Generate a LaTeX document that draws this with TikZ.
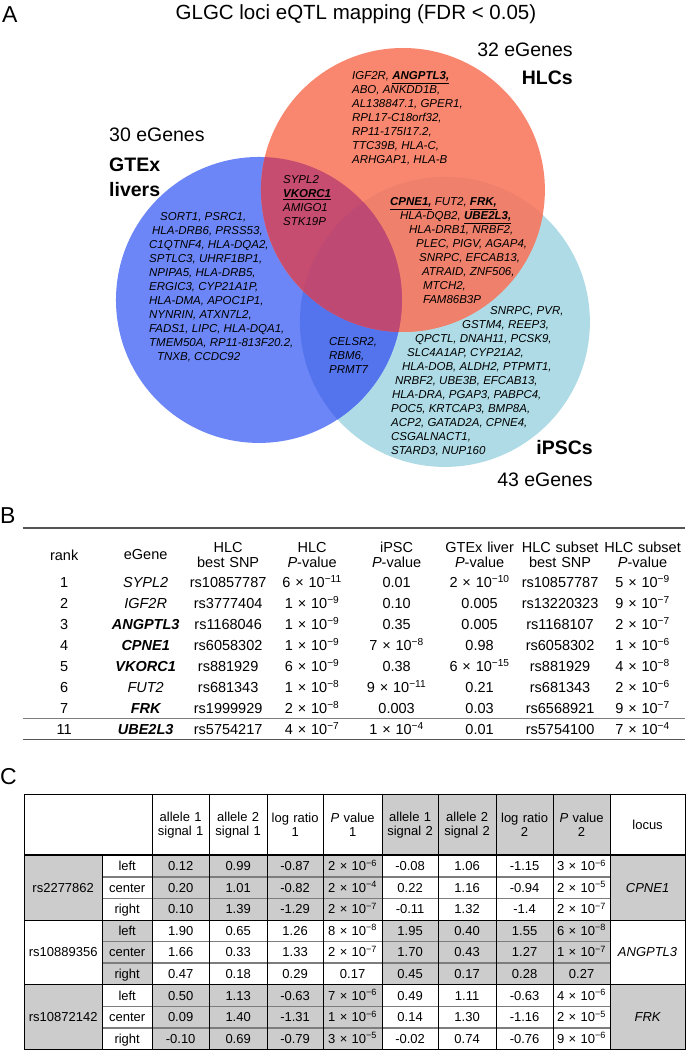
\documentclass[tikz,border=0pt]{standalone}
\usepackage{fontspec}
\setmainfont{Liberation Sans}
\usetikzlibrary{matrix,backgrounds}
\definecolor{hlcfill}{RGB}{249,134,110}
\definecolor{gtexfill}{RGB}{108,134,247}
\definecolor{ipscfill}{RGB}{174,219,229}
\definecolor{hgfill}{RGB}{198,77,112}
\definecolor{hifill}{RGB}{238,128,108}
\definecolor{gifill}{RGB}{84,116,238}
\definecolor{allfill}{RGB}{190,74,116}
\definecolor{cellgray}{RGB}{204,204,204}
\definecolor{rulegray}{RGB}{85,85,85}
\definecolor{divgray}{RGB}{125,125,125}
\newcommand\fsP{\fontsize{23}{26}\selectfont}
\newcommand\fsH{\fontsize{20.5}{24}\selectfont}
\newcommand\fsL{\fontsize{19.5}{22}\selectfont}
\newcommand\fsV{\fontsize{11.5}{14}\selectfont}
\newcommand\fsT{\fontsize{14.5}{14.5}\selectfont}
\newcommand\fsC{\fontsize{13}{14}\selectfont}
\newcommand\hit[1]{\underline{\textbf{#1}}}
\newcommand\ex[2]{#1 × 10\textsuperscript{−#2}}
\tikzset{
  panel/.style={font=\fsP,anchor=base west,inner sep=0pt},
  ttl/.style={font=\fsH,anchor=base,inner sep=0pt},
  setlab/.style={font=\fsL,inner sep=0pt},
  setname/.style={font=\fsL\bfseries,inner sep=0pt},
  genes/.style={font=\fsV\itshape,align=left,anchor=north west,inner sep=0pt},
  cw/.style={nodes={text width=#1}},
  tblB/.style={matrix of nodes,nodes in empty cells,inner sep=0pt,
    nodes={font=\fsT,inner sep=0pt,anchor=center,align=center,minimum height=21pt,text height=10.4pt,text depth=0pt},
    row 1/.style={nodes={font=\fsT,minimum height=33.5pt,text height=,text depth=}}},
  tblC/.style={matrix of nodes,nodes in empty cells,inner sep=0pt,
    nodes={font=\fsC,inner sep=0pt,anchor=center,align=center,minimum height=21.6pt,text height=9.3pt,text depth=0pt},
    row 1/.style={nodes={font=\fsC,minimum height=60pt,text height=,text depth=}}},
  rule/.style={draw=rulegray,line width=1.3pt},
  cline/.style={draw=black,line width=0.8pt},
  cdiv/.style={draw=divgray,line width=1.6pt}
}
\begin{document}
\begin{tikzpicture}[x=1pt,y=-1pt]
  \begin{scope}[on background layer]
    \fill[white] (0,0) rectangle (686,1050);
  \end{scope}
  % A: Venn diagram of eGenes
  \coordinate (hlc) at (403,190);
  \coordinate (gtex) at (259,300);
  \coordinate (ipsc) at (445,322);
  \fill[ipscfill] (ipsc) circle[radius=145pt];
  \fill[gtexfill] (gtex) circle[radius=143pt];
  \fill[hlcfill] (hlc) circle[radius=142pt];
  \begin{scope}
    \clip (gtex) circle[radius=143pt];
    \fill[gifill] (ipsc) circle[radius=145pt];
  \end{scope}
  \begin{scope}
    \clip (hlc) circle[radius=142pt];
    \fill[hifill] (ipsc) circle[radius=145pt];
    \fill[hgfill] (gtex) circle[radius=143pt];
    \clip (gtex) circle[radius=143pt];
    \fill[allfill] (ipsc) circle[radius=145pt];
  \end{scope}

  \node[panel] (pa) at (2,23) {A};
  \node[ttl] (title) at (356,19.5) {GLGC loci eQTL mapping (FDR < 0.05)};
  \node[setlab,anchor=base east] (hlcn) at (573,57) {32 eGenes};
  \node[setname,anchor=base east] (hlcname) at (573,85) {HLCs};
  \node[setlab,anchor=base west] (gtexn) at (109,142) {30 eGenes};
  \node[setname,anchor=base west] (gtexname) at (109,172) {GTEx};
  \node[setname,anchor=base west] (gtexname2) at (109,197) {livers};
  \node[setname,anchor=base east] (ipscname) at (593,455) {iPSCs};
  \node[setlab,anchor=base east] (ipscn) at (593,487) {43 eGenes};

  \node[genes] (hlcg) at (352,71.7) {IGF2R, \hit{ANGPTL3,}\\ABO, ANKDD1B,\\AL138847.1, GPER1,\\RPL17-C18orf32,\\RP11-175I17.2,\\TTC39B, HLA-C,\\ARHGAP1, HLA-B};
  \node[genes] (hgg) at (283,175.7) {SYPL2\\\hit{VKORC1}\\AMIGO1\\STK19P};
  \node[genes] (gtexg) at (149,212.7) {\hspace*{11pt}SORT1, PSRC1,\\\hspace*{3pt}HLA-DRB6, PRSS53,\\C1QTNF4, HLA-DQA2,\\SPTLC3, UHRF1BP1,\\NPIPA5, HLA-DRB5,\\ERGIC3, CYP21A1P,\\HLA-DMA, APOC1P1,\\NYNRIN, ATXN7L2,\\FADS1, LIPC, HLA-DQA1,\\TMEM50A, RP11-813F20.2,\\\hspace*{8pt}TNXB, CCDC92};
  \node[genes] (hig) at (390,197.7) {\hit{CPNE1,} FUT2, \hit{FRK,}\\\hspace*{10pt}HLA-DQB2, \hit{UBE2L3,}\\\hspace*{19pt}HLA-DRB1, NRBF2,\\\hspace*{26pt}PLEC, PIGV, AGAP4,\\\hspace*{29pt}SNRPC, EFCAB13,\\\hspace*{32pt}ATRAID, ZNF506,\\\hspace*{33pt}MTCH2,\\\hspace*{33pt}FAM86B3P};
  \node[genes] (gig) at (329,337.7) {CELSR2,\\RBM6,\\PRMT7};
  \node[genes] (ipscg) at (391,306.7) {\hspace*{99pt}SNRPC, PVR,\\\hspace*{71pt}GSTM4, REEP3,\\\hspace*{24pt}QPCTL, DNAH11, PCSK9,\\\hspace*{16pt}SLC4A1AP, CYP21A2,\\\hspace*{11pt}HLA-DOB, ALDH2, PTPMT1,\\\hspace*{4pt}NRBF2, UBE3B, EFCAB13,\\\hspace*{1pt}HLA-DRA, PGAP3, PABPC4,\\POC5, KRTCAP3, BMP8A,\\ACP2, GATAD2A, CPNE4,\\CSGALNACT1,\\STARD3, NUP160};

  % B: top eGenes
  \node[panel] (pb) at (0,524) {B};
  \matrix (tabB) [tblB,anchor=north west,
    column 1/.style={cw=82pt},column 2/.style={cw=81pt,nodes={font=\fsT\itshape}},
    column 3/.style={cw=84pt},column 4/.style={cw=84pt},column 5/.style={cw=85pt},
    column 6/.style={cw=81pt},column 7/.style={cw=80pt},column 8/.style={cw=85pt}] at (23,538) {
    rank & eGene & {HLC\\best SNP} & {HLC\\\textit{P}-value} & {iPSC\\\textit{P}-value} & {GTEx liver\\\textit{P}-value} & {HLC subset\\best SNP} & {HLC subset\\\textit{P}-value} \\
    1 & SYPL2 & rs10857787 & \ex{6}{11} & 0.01 & \ex{2}{10} & rs10857787 & \ex{5}{9} \\
    2 & IGF2R & rs3777404 & \ex{1}{9} & 0.10 & 0.005 & rs13220323 & \ex{9}{7} \\
    3 & \textbf{ANGPTL3} & rs1168046 & \ex{1}{9} & 0.35 & 0.005 & rs1168107 & \ex{2}{7} \\
    4 & \textbf{CPNE1} & rs6058302 & \ex{1}{9} & \ex{7}{8} & 0.98 & rs6058302 & \ex{1}{6} \\
    5 & \textbf{VKORC1} & rs881929 & \ex{6}{9} & 0.38 & \ex{6}{15} & rs881929 & \ex{4}{8} \\
    6 & FUT2 & rs681343 & \ex{1}{8} & \ex{9}{11} & 0.21 & rs681343 & \ex{2}{6} \\
    7 & \textbf{FRK} & rs1999929 & \ex{2}{8} & 0.003 & 0.03 & rs6568921 & \ex{9}{7} \\
    11 & \textbf{UBE2L3} & rs5754217 & \ex{4}{7} & \ex{1}{4} & 0.01 & rs5754100 & \ex{7}{4} \\
  };
  \draw[rule] ([yshift=10pt]tabB-1-1.north west) -- ([yshift=10pt]tabB-1-8.north east);
  \draw[rule,draw=divgray,line width=1pt] (tabB-8-1.south west) -- (tabB-8-8.south east);
  \draw[rule] (tabB-9-1.south west) -- (tabB-9-8.south east);

  % C: allelic signals
  \node[panel] (pc) at (0,785) {C};
  \matrix (tabC) [tblC,anchor=north west,
    column 1/.style={cw=78pt},column 2/.style={cw=50pt},column 3/.style={cw=57pt},
    column 4/.style={cw=58pt},column 5/.style={cw=56pt},column 6/.style={cw=59pt},
    column 7/.style={cw=56pt},column 8/.style={cw=58pt},column 9/.style={cw=57pt},
    column 10/.style={cw=57pt},column 11/.style={cw=75pt,nodes={font=\fsC\itshape}}] at (24,795) {
    & & {allele 1\\signal 1} & {allele 2\\signal 1} & {log ratio\\1} & {\textit{P} value\\1} & {allele 1\\signal 2} & {allele 2\\signal 2} & {log ratio\\2} & {\textit{P} value\\2} & locus \\
    & left & 0.12 & 0.99 & -0.87 & \ex{2}{6} & -0.08 & 1.06 & -1.15 & \ex{3}{6} & \\
    rs2277862 & center & 0.20 & 1.01 & -0.82 & \ex{2}{4} & 0.22 & 1.16 & -0.94 & \ex{2}{5} & CPNE1 \\
    & right & 0.10 & 1.39 & -1.29 & \ex{2}{7} & -0.11 & 1.32 & -1.4 & \ex{2}{7} & \\
    & left & 1.90 & 0.65 & 1.26 & \ex{8}{8} & 1.95 & 0.40 & 1.55 & \ex{6}{8} & \\
    rs10889356 & center & 1.66 & 0.33 & 1.33 & \ex{2}{7} & 1.70 & 0.43 & 1.27 & \ex{1}{7} & ANGPTL3 \\
    & right & 0.47 & 0.18 & 0.29 & 0.17 & 0.45 & 0.17 & 0.28 & 0.27 & \\
    & left & 0.50 & 1.13 & -0.63 & \ex{7}{6} & 0.49 & 1.11 & -0.63 & \ex{4}{6} & \\
    rs10872142 & center & 0.09 & 1.40 & -1.31 & \ex{1}{6} & 0.14 & 1.30 & -1.16 & \ex{2}{5} & FRK \\
    & right & -0.10 & 0.69 & -0.79 & \ex{3}{5} & -0.02 & 0.74 & -0.76 & \ex{9}{6} & \\
  };
  \begin{scope}[on background layer]
    \fill[cellgray] (tabC-1-7.north west) rectangle (tabC-1-10.south east);
    \fill[cellgray] (tabC-2-1.north west) rectangle (tabC-4-1.south east);
    \fill[cellgray] (tabC-2-3.north west) rectangle (tabC-4-6.south east);
    \fill[cellgray] (tabC-2-11.north west) rectangle (tabC-4-11.south east);
    \fill[cellgray] (tabC-5-2.north west) rectangle (tabC-7-2.south east);
    \fill[cellgray] (tabC-5-7.north west) rectangle (tabC-7-10.south east);
    \fill[cellgray] (tabC-8-1.north west) rectangle (tabC-10-1.south east);
    \fill[cellgray] (tabC-8-3.north west) rectangle (tabC-10-6.south east);
    \fill[cellgray] (tabC-8-11.north west) rectangle (tabC-10-11.south east);
  \end{scope}
  \foreach \r in {2,3,5,6,8,9}
    \draw[cdiv] (tabC-\r-2.south west) -- (tabC-\r-10.south east);
  \foreach \c in {2,...,10}
    \draw[cline] (tabC-1-\c.north east) -- (tabC-10-\c.south east);
  \draw[cline] (tabC-2-1.north east) -- (tabC-10-1.south east);
  \draw[cline] (tabC-4-1.south west) -- (tabC-4-11.south east);
  \draw[cline] (tabC-7-1.south west) -- (tabC-7-11.south east);
  \draw[cline,line width=2.2pt] (tabC-1-1.south west) -- (tabC-1-11.south east);
  \draw[cline] (tabC-1-1.north west) rectangle (tabC-10-11.south east);
\end{tikzpicture}
\end{document}
